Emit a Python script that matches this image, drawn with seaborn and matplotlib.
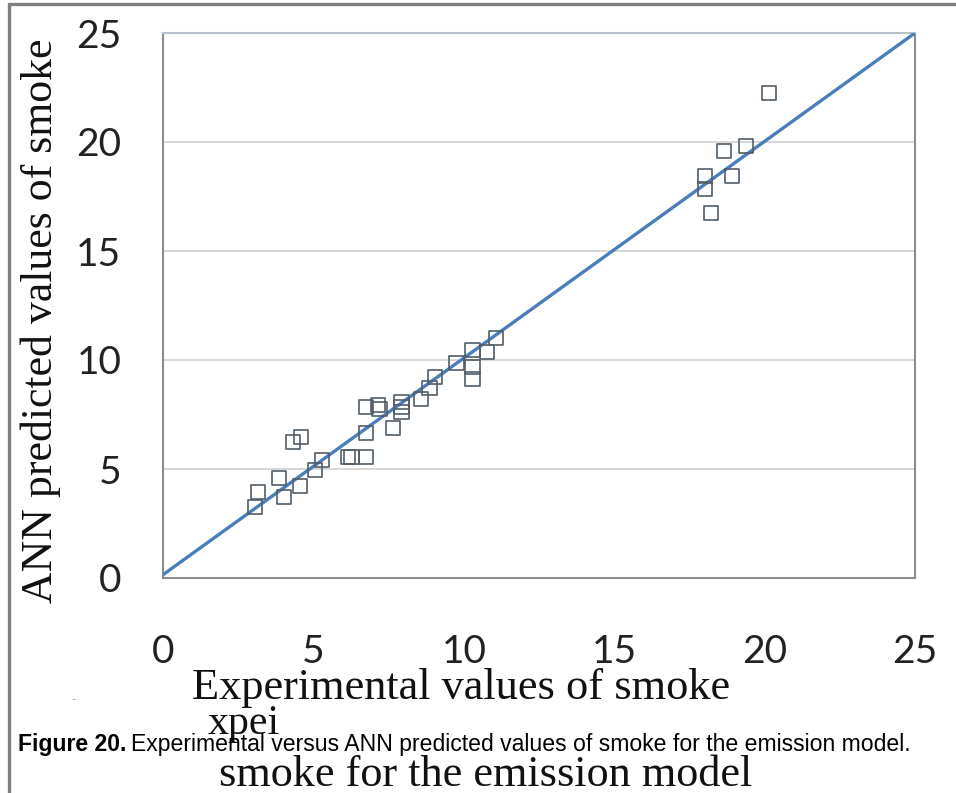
import matplotlib
matplotlib.use("Agg")
import matplotlib.pyplot as plt
from matplotlib.lines import Line2D
import seaborn as sns

# ---- data ----
exp_values = [3.05, 3.15, 3.85, 4.03, 4.55, 4.32, 4.60, 5.05, 5.28, 6.14, 6.27, 6.74,
              6.74, 6.74, 7.14, 7.20, 7.64, 7.93, 7.93, 7.93, 8.57, 8.86, 9.03, 9.76,
              10.29, 10.29, 10.29, 10.76, 11.06, 18.03, 18.03, 18.23, 18.66, 18.92,
              19.39, 20.15]
ann_values = [3.26, 3.95, 4.59, 3.72, 4.22, 6.24, 6.47, 4.95, 5.41, 5.55, 5.55, 5.55,
              6.65, 7.84, 7.94, 7.75, 6.88, 8.07, 7.84, 7.60, 8.20, 8.70, 9.22, 9.86,
              10.46, 9.68, 9.13, 10.37, 11.00, 18.44, 17.84, 16.74, 19.59, 18.44,
              19.82, 22.25]
line_x = [0, 25]
line_y = [0.15, 25]
ticks = [0, 5, 10, 15, 20, 25]
tick_labels = ["0", "5", "10", "15", "20", "25"]

xlabel = "Experimental values of smoke"
ylabel = "ANN predicted values of smoke"
frag1 = "xpei"
frag2 = "smoke for the emission model"
cap_bold = "Figure 20."
cap_rest = "Experimental versus ANN predicted values of smoke for the emission model."

sns.set_style("white")
plt.rcParams['font.family'] = ['Lato', 'DejaVu Sans']

W, H = 956, 793
fig = plt.figure(figsize=(W / 100, H / 100), dpi=100)
fig.patch.set_facecolor("white")
ax = fig.add_axes([163 / W, 1 - 578 / H, (915 - 163) / W, (578 - 33) / H])

grid_c = "#d4d4d4"
spine_c = "#8c8c8c"

sns.lineplot(x=line_x, y=line_y, color="#4a7ebb", linewidth=2.4, ax=ax, zorder=3)
sns.scatterplot(x=exp_values, y=ann_values, marker="s", s=105, facecolor="none",
                edgecolor="#525d68", linewidth=1.2, ax=ax, zorder=4)

ax.set_xlim(0, 25)
ax.set_ylim(0, 25)
ax.set_xticks(ticks)
ax.set_xticklabels(tick_labels)
ax.set_yticks(ticks)
ax.set_yticklabels(tick_labels)
ax.yaxis.grid(True, color=grid_c, linewidth=1.3)
ax.xaxis.grid(False)
ax.set_axisbelow(True)
for side in ["left", "bottom", "right"]:
    ax.spines[side].set_visible(True)
    ax.spines[side].set_color(spine_c)
    ax.spines[side].set_linewidth(1.5)
ax.spines["top"].set_color("#b8c2cc")
ax.spines["top"].set_linewidth(1.5)
ax.tick_params(axis="x", direction="out", length=11, width=1.5, color=spine_c,
               pad=29, labelsize=28, labelcolor="#222222")
ax.tick_params(axis="y", direction="out", length=11, width=1.5, color=spine_c,
               pad=19, labelsize=28, labelcolor="#222222")
ax.set_xlabel("")
ax.set_ylabel("")

serif = ["Liberation Serif", "DejaVu Serif"]
tx = fig.text(461 / W, 1 - 688 / H, xlabel, ha="center", va="center",
              family=serif, fontsize=31, color="#111111")
ty = fig.text(41 / W, 1 - 321 / H, ylabel, ha="center", va="center", rotation=90,
              family=serif, fontsize=32, color="#111111")
tf1 = fig.text(244 / W, 1 - 724 / H, frag1, ha="center", va="center",
               family=serif, fontsize=31, color="#111111")
tf2 = fig.text(486 / W, 1 - 775 / H, frag2, ha="center", va="center",
               family=serif, fontsize=31, color="#111111")
fig.text(73 / W, 1 - 700 / H, "-", ha="center", va="center", fontsize=8, color="#999999")

sans_n = ["Liberation Sans Narrow", "Liberation Sans"]
cb = fig.text(18 / W, 1 - 745 / H, cap_bold, ha="left", va="center",
              family=sans_n, fontsize=17, fontweight="bold", color="#000000")
cr = fig.text(0, 1 - 745 / H, cap_rest, ha="left", va="center",
              family=sans_n, fontsize=17, color="#000000")

fig.canvas.draw()
r = fig.canvas.get_renderer()

def fit(t, target, vertical=False):
    bb = t.get_window_extent(r)
    cur = bb.height if vertical else bb.width
    t.set_fontsize(t.get_fontsize() * target / cur)

fit(tx, 537)
fit(ty, 567, vertical=True)
fit(tf1, 72)
fit(tf2, 532)

# caption: fit total width 18 -> 911
bbb = cb.get_window_extent(r)
cr.set_x((bbb.x1 + 5) / W)
fig.canvas.draw()
total = cr.get_window_extent(r).x1 - bbb.x0
scale = (911 - 18) / total
cb.set_fontsize(cb.get_fontsize() * scale)
cr.set_fontsize(cr.get_fontsize() * scale)
fig.canvas.draw()
bbb = cb.get_window_extent(r)
cr.set_x((bbb.x1 + 5 * scale) / W)

# outer frame (left and top edges)
fig.add_artist(Line2D([9 / W, 9 / W], [0, 1 - 4 / H], transform=fig.transFigure,
                      color="#7f7f7f", linewidth=2.4))
fig.add_artist(Line2D([9 / W, 1], [1 - 4 / H, 1 - 4 / H], transform=fig.transFigure,
                      color="#7f7f7f", linewidth=2.4))

fig.savefig("out.png", dpi=100, facecolor="white")
